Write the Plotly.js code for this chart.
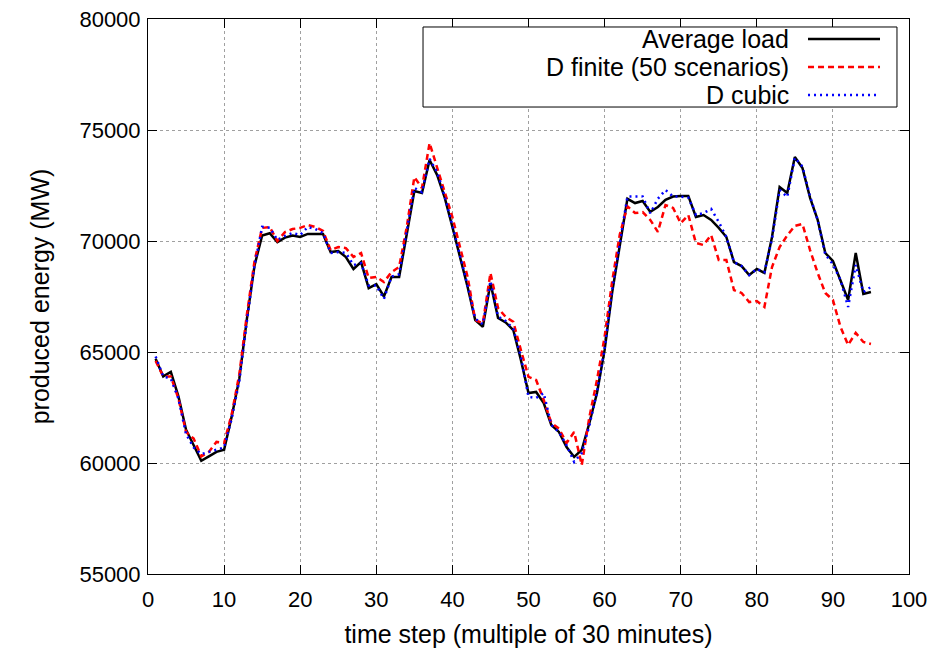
<!DOCTYPE html>
<html>
<head>
<meta charset="utf-8">
<script src="https://cdn.plot.ly/plotly-3.0.1.min.js"></script>
<style>html,body{margin:0;padding:0;background:#fff;}#chart{width:936px;height:654px;}</style>
</head>
<body>
<div id="chart"></div>
<script>
const timeSteps = Array.from({length: 95}, (_, i) => i + 1);

const averageLoad = [
  64700, 63900, 64100, 63000, 61500, 60800, 60100, 60300, 60500, 60600,
  62100, 63800, 66500, 68900, 70250, 70350, 69950, 70150, 70250, 70180,
  70320, 70320, 70320, 69500, 69550, 69280, 68740, 69050, 67880, 68060,
  67500, 68380, 68380, 70300, 72250, 72160, 73650, 72970, 71940, 70630,
  69280, 67930, 66440, 66130, 68110, 66530, 66330, 65990, 64640, 63150,
  63200, 62700, 61710, 61400, 60720, 60270, 60590, 61800, 63150, 65090,
  67700, 69900, 71900, 71710, 71800, 71310, 71530, 71850, 72000, 72030,
  72030, 71080, 71170, 70950, 70590, 70180, 69050, 68870, 68470, 68740,
  68560, 70180, 72430, 72160, 73780, 73290, 71940, 70950, 69460, 69100,
  68240, 67340, 69460, 67610, 67700
];

const dFinite = [
  64600, 63900, 63900, 62900, 61400, 61100, 60300, 60500, 60950, 60900,
  62200, 64000, 66700, 69100, 70590, 70630, 70000, 70400, 70540, 70590,
  70720, 70630, 70450, 69590, 69730, 69680, 69280, 69460, 68330, 68380,
  68150, 68600, 68830, 70630, 72880, 72390, 74410, 73330, 72200, 71080,
  69730, 68380, 66440, 66300, 68560, 66980, 66580, 66360, 65090, 63880,
  63740, 62840, 61800, 61550, 60900, 61400, 59910, 62070, 63740, 65680,
  68200, 70300, 71560, 71260, 71300, 70950, 70410, 71620, 71490, 70800,
  71170, 69910, 69820, 70270, 69140, 69140, 67790, 67660, 67250, 67300,
  67030, 68830, 69730, 70250, 70680, 70770, 69590, 68560, 67660, 67340,
  66130, 65320, 65860, 65450, 65360
];

const dCubic = [
  64800, 63900, 63800, 62900, 61300, 60700, 60400, 60500, 60600, 60700,
  62000, 63700, 66400, 68900, 70640, 70600, 70050, 70230, 70360, 70270,
  70630, 70540, 70360, 69460, 69500, 69460, 68920, 69000, 68000, 68000,
  67390, 68400, 68500, 70400, 72390, 72200, 73700, 73100, 72000, 70700,
  69350, 68000, 66500, 66250, 68200, 66600, 66400, 66050, 64790, 62980,
  62930, 63150, 61710, 61400, 60800, 60050, 60450, 61700, 63200, 65150,
  67800, 70000, 72000, 72000, 72000, 71250, 71900, 72300, 72000, 72000,
  71950, 71170, 71260, 71440, 70860, 70180, 69050, 68870, 68470, 68740,
  68600, 70100, 72300, 71980, 73750, 73350, 72000, 70950, 69400, 68950,
  68240, 67030, 68920, 67700, 67930
];

const seriesNames = ["Average load", "D finite (50 scenarios)", "D cubic"];
const xTicks = [0, 10, 20, 30, 40, 50, 60, 70, 80, 90, 100];
const yTicks = [55000, 60000, 65000, 70000, 75000, 80000];

const FONT = "Liberation Sans, Arial, Helvetica, sans-serif";
const styles = [
  {color: "#000000", dash: "solid", width: 2.5},
  {color: "#ff0000", dash: "6px,4px", width: 2.5},
  {color: "#0000ff", dash: "2px,4px", width: 2.5}
];
const ys = [averageLoad, dFinite, dCubic];

const traces = [0, 1, 2].map(i => ({
  x: timeSteps, y: ys[i], type: "scatter", mode: "lines", name: seriesNames[i],
  line: {color: styles[i].color, dash: styles[i].dash, width: styles[i].width},
  showlegend: false, hoverinfo: "skip"
}));

// legend drawn as annotations + sample lines (keys sit right of the text)
const legBox = {x0: 0.3614, x1: 0.9842, y0: 0.8414, y1: 0.9856};
const rowY = [0.9640, 0.9135, 0.8631];
const shapes = [{
  type: "rect", xref: "paper", yref: "paper",
  x0: legBox.x0, x1: legBox.x1, y0: legBox.y0, y1: legBox.y1,
  line: {color: "#000", width: 1}, fillcolor: "#fff", layer: "above"
}];
const annotations = [];
seriesNames.forEach((n, i) => {
  shapes.push({
    type: "line", xref: "paper", yref: "paper",
    x0: 0.8673, x1: 0.9619, y0: rowY[i], y1: rowY[i],
    line: {color: styles[i].color, dash: styles[i].dash, width: styles[i].width},
    layer: "above"
  });
  annotations.push({
    xref: "paper", yref: "paper", x: 0.8436, y: rowY[i],
    xanchor: "right", yanchor: "middle", showarrow: false, borderpad: 0,
    text: n, font: {family: FONT, size: 25, color: "#000"}
  });
});

const axisCommon = {
  showline: true, linecolor: "#000", linewidth: 1, mirror: "allticks",
  ticks: "inside", ticklen: 9, tickwidth: 1, tickcolor: "#000",
  showgrid: true, gridcolor: "#a0a0a0", gridwidth: 1, griddash: "dot",
  zeroline: false, tickfont: {family: FONT, size: 22, color: "#000"}
};

const layout = {
  width: 936, height: 654,
  margin: {l: 148, r: 27, t: 19, b: 80},
  paper_bgcolor: "#fff", plot_bgcolor: "#fff",
  showlegend: false,
  xaxis: Object.assign({}, axisCommon, {
    range: [0, 100], tickvals: xTicks, ticktext: xTicks.map(String),
    ticklabelstandoff: 6,
    title: {text: "time step (multiple of 30 minutes)", font: {family: FONT, size: 25, color: "#000"}, standoff: 14}
  }),
  yaxis: Object.assign({}, axisCommon, {
    range: [55000, 80000], tickvals: yTicks, ticktext: yTicks.map(String),
    ticklabelstandoff: 2,
    title: {text: "produced energy (MW)", font: {family: FONT, size: 25, color: "#000"}, standoff: 22}
  }),
  shapes: shapes, annotations: annotations
};

Plotly.newPlot("chart", traces, layout, {staticPlot: true, displayModeBar: false});
</script>
</body>
</html>
